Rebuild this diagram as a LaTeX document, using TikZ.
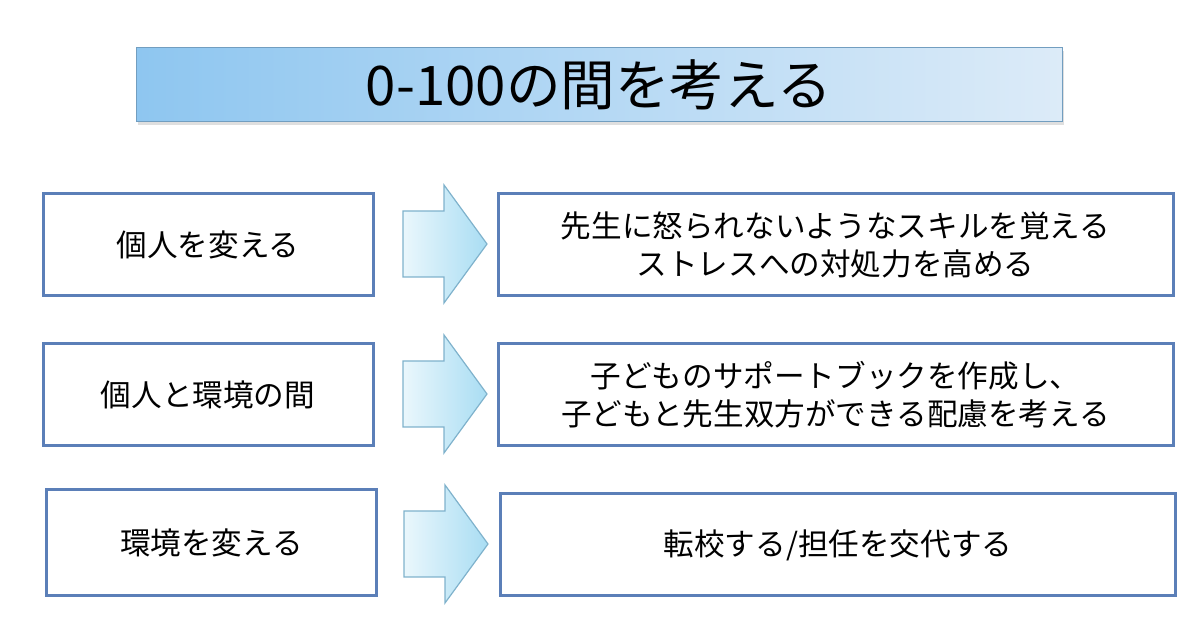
\documentclass[tikz,border=0pt]{standalone}
\usepackage{fontspec}
\setmainfont{Noto Sans CJK JP}
\usetikzlibrary{positioning,shadows}
\definecolor{boxline}{HTML}{5B7FB8}
\definecolor{titleleft}{HTML}{8EC6F0}
\definecolor{titleright}{HTML}{DCEBF8}
\definecolor{arrowlight}{HTML}{EAF7FC}
\definecolor{arrowdark}{HTML}{A9DDF3}
\definecolor{arrowline}{HTML}{7FB2CC}

\begin{document}
\begin{tikzpicture}[x=0.5pt, y=-0.5pt,
  stepbox/.style={draw=boxline, line width=1.5pt, fill=white, minimum height=51pt, align=center, font=\fontsize{15.3}{19}\selectfont},
  leftbox/.style={stepbox, minimum width=165pt},
  rightbox/.style={stepbox, minimum width=337.5pt},
  titlebox/.style={draw=titleleft!80!black, line width=0.5pt, left color=titleleft, right color=titleright, minimum width=463pt, minimum height=37pt, font=\fontsize{27.3}{30}\selectfont, drop shadow={opacity=0.25, shadow xshift=1pt, shadow yshift=-1.5pt}},
  bigarrow/.style={draw=arrowline, line width=0.6pt, left color=arrowlight, right color=arrowdark, line join=miter}]
  \useasboundingbox (0,0) rectangle (1200,635);
  \node[titlebox] (title) at (599,85) {0-100の間を考える};

  \node[leftbox] (p1) at (208,245) {個人を変える};
  \node[rightbox] (q1) at (835.5,244.5) {先生に怒られないようなスキルを覚える\\ストレスへの対処力を高める};
  \node[leftbox] (p2) at (208,395) {個人と環境の間};
  \node[rightbox] (q2) at (835.5,394.5) {子どものサポートブックを作成し、\\子どもと先生双方ができる配慮を考える};
  \node[leftbox, minimum height=53pt] (p3) at (211.5,543) {環境を変える};
  \node[rightbox] (q3) at (838,545) {転校する/担任を交代する};

  % block arrows between the columns
  \foreach \x/\y in {403/244,403/394,404/544}
    \draw[bigarrow] (\x,\y-33) -- ++(41,0) -- ++(0,-26) -- ++(43,59) -- ++(-43,59) -- ++(0,-26) -- ++(-41,0) -- cycle;
\end{tikzpicture}
\end{document}
